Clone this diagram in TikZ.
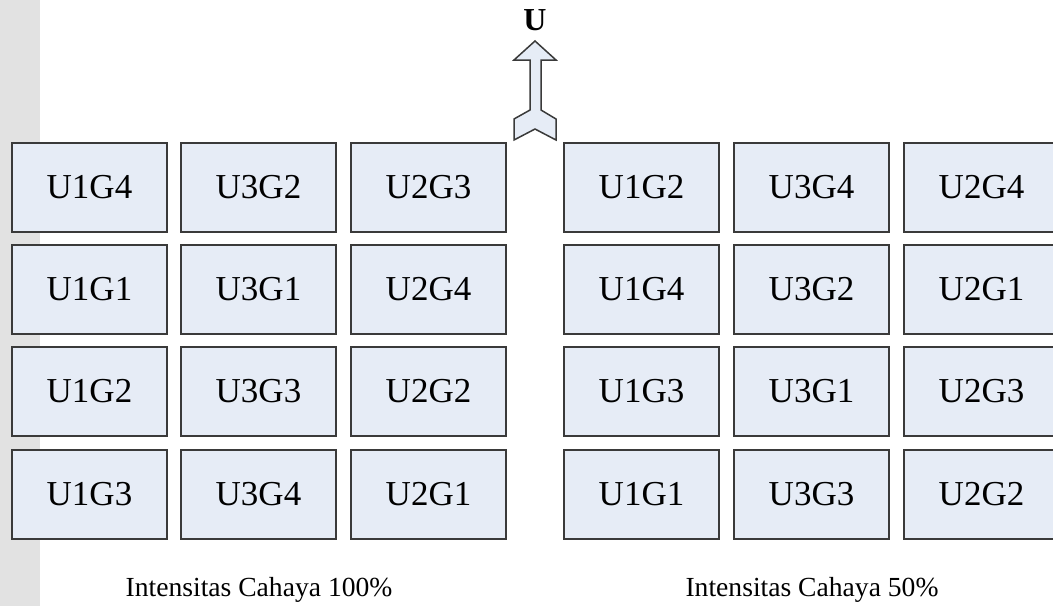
\documentclass[tikz,border=0pt]{standalone}
\usepackage{fontspec}
\setmainfont{Liberation Serif}
\usetikzlibrary{positioning}
\definecolor{plotc}{HTML}{E6ECF6}
\definecolor{edgec}{HTML}{3A3A3A}
\definecolor{bandc}{HTML}{E2E2E2}

\begin{document}
\begin{tikzpicture}[x=0.5pt, y=-0.5pt,
      plot/.style={draw=edgec, fill=plotc, line width=0.75pt,
                   minimum width=77.5pt, minimum height=44.5pt, inner sep=0pt,
                   font=\fontsize{17.5}{20}\selectfont},
      lbl/.style={inner sep=0pt, font=\fontsize{13.8}{16}\selectfont}]
    \useasboundingbox (0,0) rectangle (1053,606);
    \fill[bandc] (0,0) rectangle (40,606);
    % full light block
    \foreach \r/\y/\a/\b/\c in {1/187.5/U1G4/U3G2/U2G3, 2/289.5/U1G1/U3G1/U2G4,
                                3/391.5/U1G2/U3G3/U2G2, 4/494.5/U1G3/U3G4/U2G1}{
      \node[plot] (F\r a) at (89.5,\y) {\a};
      \node[plot] (F\r b) at (258.5,\y) {\b};
      \node[plot] (F\r c) at (428.5,\y) {\c};}
    % half light block
    \foreach \r/\y/\a/\b/\c in {1/187.5/U1G2/U3G4/U2G4, 2/289.5/U1G4/U3G2/U2G1,
                                3/391.5/U1G3/U3G1/U2G3, 4/494.5/U1G1/U3G3/U2G2}{
      \node[plot] (H\r a) at (641.5,\y) {\a};
      \node[plot] (H\r b) at (811.5,\y) {\b};
      \node[plot] (H\r c) at (981.5,\y) {\c};}
    \node[lbl] (full) at (259,590) {Intensitas Cahaya 100\%};
    \node[lbl] (half) at (812,590) {Intensitas Cahaya 50\%};
    \node[lbl, font=\fontsize{16}{18}\selectfont\bfseries] (north) at (535,20) {U};
    \draw[edgec, fill=plotc, line width=0.75pt]
      (535,41) -- (556,60) -- (541,60) -- (541,110) -- (556,119) -- (556,140)
      -- (535,129) -- (514,140) -- (514,119) -- (530,110) -- (530,60)
      -- (514,60) -- cycle;
  \end{tikzpicture}
\end{document}
